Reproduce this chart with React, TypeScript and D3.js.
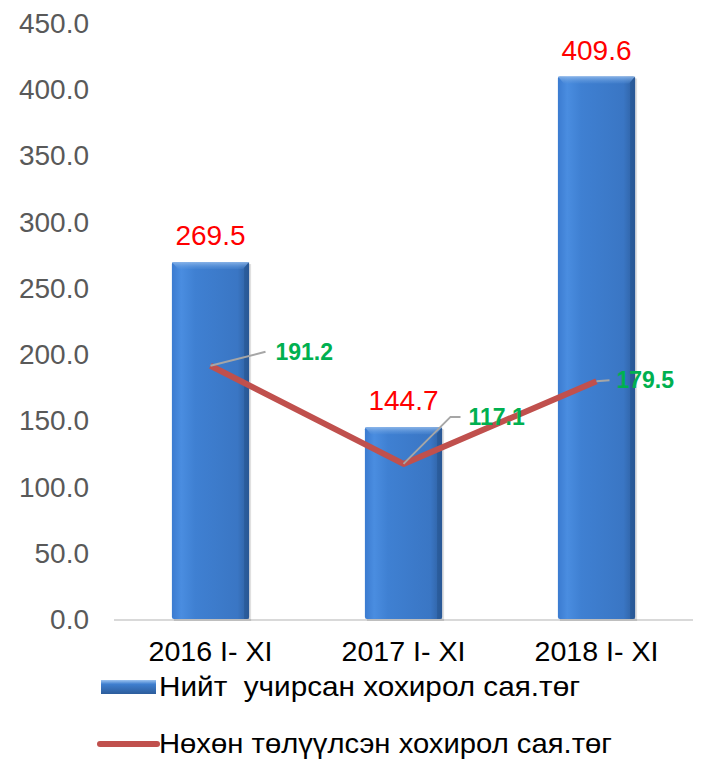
import React from "react";
import * as d3 from "d3";

const categories = ["2016 I- XI", "2017 I- XI", "2018 I- XI"];
const totalLoss = [269.5, 144.7, 409.6];
const recovered = [191.2, 117.1, 179.5];
const yTicks = [0, 50, 100, 150, 200, 250, 300, 350, 400, 450];
const seriesNames = ["Нийт  учирсан хохирол сая.төг", "Нөхөн төлүүлсэн хохирол сая.төг"];

export default function App() {
  const W = 711, H = 759;
  const x = d3.scaleBand<string>().domain(categories).range([114, 693]).paddingInner(0.6).paddingOuter(0.3);
  const y = d3.scaleLinear().domain([0, 450]).range([619, 23]);
  const bw = x.bandwidth();
  const cx = (c: string) => (x(c) as number) + bw / 2;
  const line = d3.line<number>().x((_, i) => cx(categories[i])).y((d) => y(d));
  const leaders = [
    { dx: 55, dy: -14, hx: 0, tx: 10 },
    { dx: 47, dy: -47, hx: 10, tx: 8 },
    { dx: 13, dy: -1, hx: 0, tx: 7 },
  ];
  const font = "'Liberation Sans', Arial, sans-serif";
  return (
    <svg width={W} height={H} style={{ position: "absolute", left: 0, top: 0, background: "#fff" }}>
      <defs>
        <linearGradient id="barG" x1="0" x2="1" y1="0" y2="0">
          <stop offset="0" stopColor="#3b7bd0" />
          <stop offset="0.12" stopColor="#4a8de0" />
          <stop offset="0.3" stopColor="#3f80d2" />
          <stop offset="0.85" stopColor="#3a76c4" />
          <stop offset="1" stopColor="#2d5e9e" />
        </linearGradient>
        <linearGradient id="topG" x1="0" x2="0" y1="0" y2="1">
          <stop offset="0" stopColor="#8fb8ea" stopOpacity="0.9" />
          <stop offset="1" stopColor="#5a95dc" stopOpacity="0.2" />
        </linearGradient>
        <linearGradient id="legG" x1="0" x2="0" y1="0" y2="1">
          <stop offset="0" stopColor="#9cc3f0" />
          <stop offset="0.3" stopColor="#3f7fcf" />
          <stop offset="1" stopColor="#2c5c9b" />
        </linearGradient>
      </defs>
      {yTicks.map((t) => (
        <text key={t} x={89} y={y(t) + 10} textAnchor="end" fontSize={28} fontFamily={font} fill="#595959">
          {t.toFixed(1)}
        </text>
      ))}
      <line x1={114} x2={693} y1={y(0) + 1} y2={y(0) + 1} stroke="#d9d9d9" strokeWidth={2} />
      {categories.map((c, i) => {
        const bx = x(c) as number;
        const by = y(totalLoss[i]);
        const bh = y(0) - by;
        return (
          <g key={c}>
            <rect x={bx + 2} y={by + 2} width={bw} height={bh} fill="#000" opacity={0.12} />
            <rect x={bx} y={by} width={bw} height={bh} fill="url(#barG)" rx={2} />
            <polygon points={`${bx},${by} ${bx + bw},${by} ${bx + bw - 6},${by + 7} ${bx + 6},${by + 7}`} fill="url(#topG)" />
            <polygon points={`${bx + bw},${by} ${bx + bw},${by + bh} ${bx + bw - 5},${by + bh} ${bx + bw - 5},${by + 6}`} fill="#24508a" opacity={0.45} />
            <text x={cx(c)} y={by - 17} textAnchor="middle" fontSize={28} fontFamily={font} fill="#ff0000">
              {totalLoss[i].toFixed(1)}
            </text>
          </g>
        );
      })}
      <path d={line(recovered) || ""} fill="none" stroke="#c0504d" strokeWidth={6} strokeLinejoin="round" />
      {categories.map((c, i) => {
        const px = cx(c), py = y(recovered[i]);
        const L = leaders[i];
        const ex = px + L.dx, ey = py + L.dy;
        return (
          <g key={"l" + c}>
            <polyline points={`${px},${py} ${ex},${ey} ${ex + L.hx},${ey}`} fill="none" stroke="#a6a6a6" strokeWidth={2} />
            <text x={ex + L.hx + L.tx} y={ey + 8} fontSize={23} fontWeight="bold" fontFamily={font} fill="#00b050">
              {recovered[i].toFixed(1)}
            </text>
          </g>
        );
      })}
      {categories.map((c) => (
        <text key={"c" + c} x={cx(c)} y={661} textAnchor="middle" fontSize={28} fontFamily={font} fill="#000"
          textLength={124} lengthAdjust="spacingAndGlyphs">
          {c}
        </text>
      ))}
      <rect x={101} y={680} width={55} height={14} fill="url(#legG)" />
      <text x={159} y={696} fontSize={28} fontFamily={font} fill="#000" textLength={421} lengthAdjust="spacingAndGlyphs" style={{ whiteSpace: "pre" }}>{seriesNames[0]}</text>
      <line x1={100} x2={157} y1={744} y2={744} stroke="#c0504d" strokeWidth={6} strokeLinecap="round" />
      <text x={159} y={753} fontSize={28} fontFamily={font} fill="#000" textLength={453} lengthAdjust="spacingAndGlyphs">{seriesNames[1]}</text>
    </svg>
  );
}
